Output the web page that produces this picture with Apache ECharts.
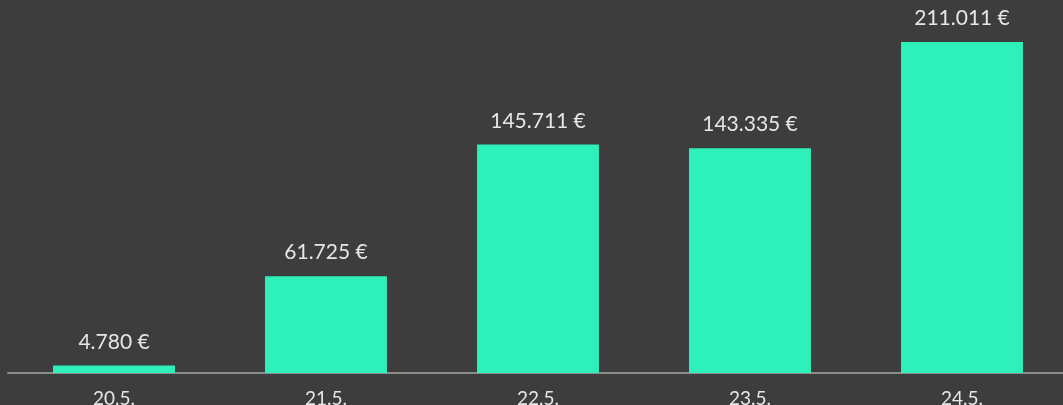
<!DOCTYPE html>
<html>
<head>
<meta charset="utf-8">
<script src="https://cdn.jsdelivr.net/npm/echarts@6/dist/echarts.min.js"></script>
<style>
  html, body { margin: 0; padding: 0; background: #3d3d3d; }
  #main { width: 1063px; height: 405px; }
</style>
</head>
<body>
<div id="main"></div>
<script>
var days = ['20.5.', '21.5.', '22.5.', '23.5.', '24.5.'];
var revenue = [4780, 61725, 145711, 143335, 211011];

function fmt(v) {
  return String(v).replace(/\B(?=(\d{3})+(?!\d))/g, '.') + ' €';
}

var chart = echarts.init(document.getElementById('main'));
chart.setOption({
  backgroundColor: '#3d3d3d',
  animation: false,
  grid: { left: 8, width: 1060, top: 42, bottom: 32, outerBoundsMode: 'none', containLabel: false },
  xAxis: {
    type: 'category',
    data: days,
    axisLine: { lineStyle: { color: '#8c8c8c', width: 2 } },
    axisTick: { show: false },
    axisLabel: { color: '#e6e6e6', fontSize: 19, fontFamily: 'Lato', margin: 16 }
  },
  yAxis: {
    type: 'value',
    min: 0,
    max: 'dataMax',
    show: false,
    splitLine: { show: false }
  },
  series: [{
    type: 'bar',
    data: revenue,
    barWidth: '57.5%',
    itemStyle: { color: '#2ef0bb' },
    label: {
      show: true,
      position: 'top',
      distance: 13,
      color: '#e6e6e6',
      fontSize: 21,
      fontFamily: 'Lato',
      formatter: function (p) { return fmt(p.value); }
    }
  }]
});
</script>
</body>
</html>
